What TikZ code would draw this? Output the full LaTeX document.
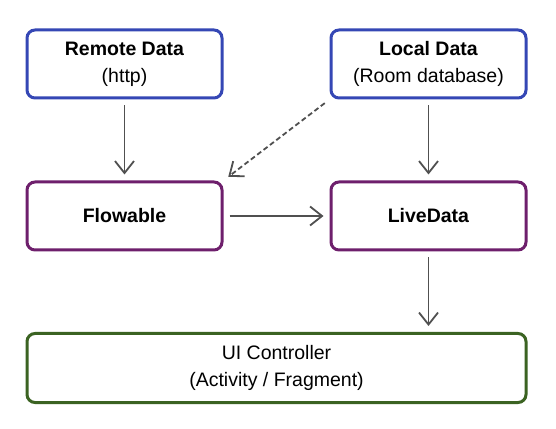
\documentclass[tikz,border=0pt]{standalone}
\usepackage{fontspec}
\setmainfont{Liberation Sans}
\usetikzlibrary{arrows.meta}
\definecolor{boxblue}{HTML}{3547B5}
\definecolor{boxpurple}{HTML}{6E1F6C}
\definecolor{boxgreen}{HTML}{3B6322}
\definecolor{linegray}{HTML}{505050}
\tikzset{
  box/.style={draw, line width=3pt, rounded corners=8pt, minimum width=195pt, minimum height=68pt,
    align=center, font=\fontsize{19.5}{27}\selectfont, inner sep=0pt},
  bluebox/.style={box, draw=boxblue},
  purplebox/.style={box, draw=boxpurple},
  greenbox/.style={box, draw=boxgreen, minimum width=499pt, minimum height=69pt},
  conn/.style={draw=linegray, line width=1.8pt, -{Straight Barb[length=12pt, width=19pt, line width=1.8pt]},
    shorten <=6pt, shorten >=6pt},
  dconn/.style={conn, dashed, dash pattern=on 5pt off 3pt}
}
\begin{document}
\begin{tikzpicture}[x=1pt,y=1pt]
\useasboundingbox (0,0) rectangle (556,428);
\fill[white] (0,0) rectangle (556,428);
\node[bluebox] (remote) at (124.5,364) {\textbf{Remote Data}\\(http)};
\node[bluebox] (local) at (428.5,364) {\textbf{Local Data}\\(Room database)};
\node[purplebox] (flow) at (124.5,212) {\textbf{Flowable}};
\node[purplebox] (live) at (428.5,212) {\textbf{LiveData}};
\node[greenbox] (ui) at (276.5,60) {UI Controller\\(Activity / Fragment)};
\draw[conn] (remote) -- (flow);
\draw[conn] (local) -- (live);
\draw[conn] (flow) -- (live);
\draw[conn] (live.south) -- (live.south |- ui.north);
\draw[dconn] (local.south west) -- (flow.north east);
\end{tikzpicture}
\end{document}
